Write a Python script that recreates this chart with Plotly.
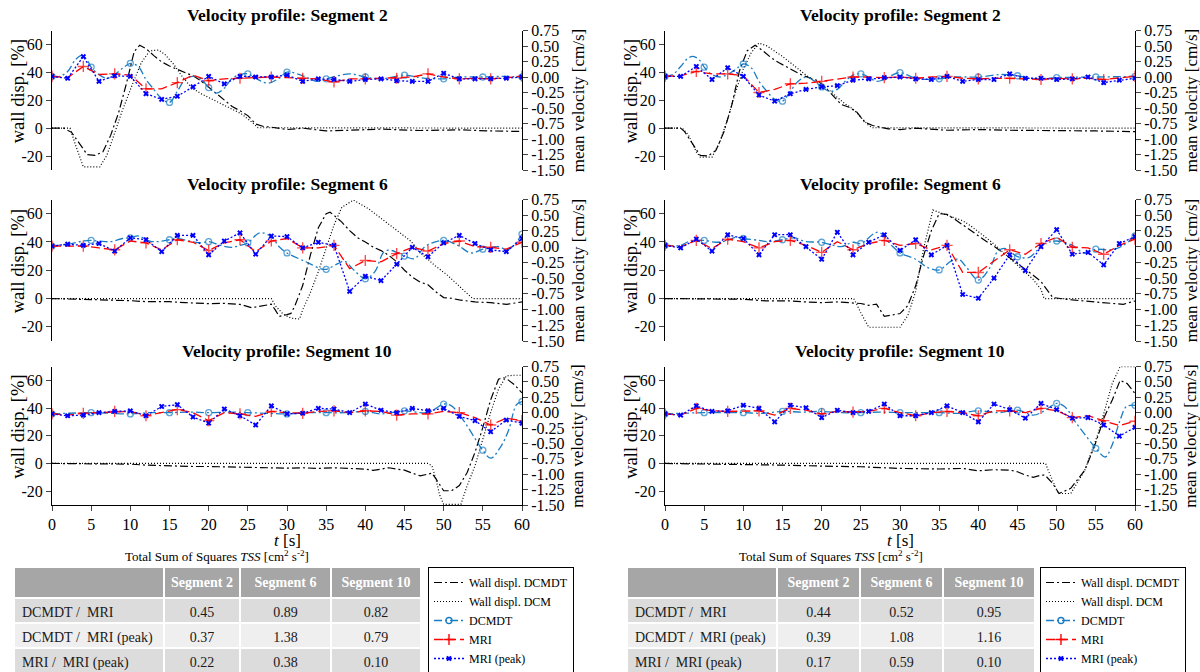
import plotly.graph_objects as go

FONT = "Liberation Serif, Times New Roman, serif"

# ------------------------------------------------------------------ data
TIME_TICKS = [0, 5, 10, 15, 20, 25, 30, 35, 40, 45, 50, 55, 60]
WALL_TICKS = [-20, 0, 20, 40, 60]
VEL_TICKS = [-1.5, -1.25, -1.0, -0.75, -0.5, -0.25, 0.0, 0.25, 0.5, 0.75]
T2 = list(range(0, 61, 2))  # MRI sampling instants [s]

# ---- left column ----
L2_wall_dcmdt_t = [0, 1.5, 2.5, 3.5, 4.5, 5.5, 6.5, 7.5, 8.5, 9.5, 10.5, 11.2, 12, 13, 14, 15, 16, 17, 18, 19, 20, 21, 22, 23, 24, 25, 26, 27, 28, 30, 32, 35, 38, 42, 47, 52, 56, 60]
L2_wall_dcmdt_v = [0, 0, -3, -11, -19, -19.5, -17, -5, 11, 32, 55, 59.5, 57, 52, 47.5, 44.5, 42, 40, 37.5, 34, 29.5, 24.5, 20, 15.5, 12.5, 9, 3, 1.2, 0.7, -1, 0, -2, -1.5, -0.7, -1.7, -1.2, -2, -2.4]
L2_wall_dcm_t = [0, 2.3, 3, 4, 6.1, 7, 7.6, 8.9, 10.2, 11.4, 12.5, 13.6, 14.4, 15.5, 16.5, 17.8, 19.1, 20.4, 21.7, 22.9, 24.2, 25.5, 26.3, 60]
L2_wall_dcm_v = [0, 0, -12, -27.8, -27.8, -19.5, -10, 11.4, 30.5, 47, 55.5, 56, 53, 46, 38, 29, 24.5, 21, 17.4, 13.8, 10.2, 4.3, 0.3, 0]
L2_vel_dcmdt_t = [0, 1, 2, 3, 3.8, 4.5, 5, 6, 7, 8, 9, 10, 11, 12, 13, 14, 15, 16, 17, 18, 19, 20, 21, 22, 23, 24, 25, 26, 27.5, 29, 30, 32, 33.9, 35, 38, 40, 42, 45, 47, 50, 52, 55, 57.5, 60]
L2_vel_dcmdt_v = [0.01, 0.01, 0.09, 0.28, 0.35, 0.27, 0.16, 0.04, -0.02, 0.04, 0.14, 0.22, 0.17, -0.04, -0.2, -0.35, -0.41, -0.23, -0.04, 0.01, -0.03, -0.17, -0.26, -0.18, -0.02, 0.04, 0.05, -0.02, -0.1, -0.02, 0.08, 0.02, -0.07, -0.03, 0.05, 0.0, -0.03, 0.03, -0.01, -0.03, 0.0, 0.0, 0.01, 0.0]
L2_mri_v = [0.01, -0.01, 0.17, 0.04, 0.05, 0.03, -0.19, -0.19, -0.09, 0.03, -0.06, -0.03, -0.02, -0.01, 0.0, -0.01, -0.02, -0.03, -0.08, -0.03, -0.03, -0.02, -0.02, 0.0, 0.05, 0.0, -0.03, -0.02, -0.03, -0.01, 0.01]
L2_peak_v = [0.01, -0.02, 0.33, -0.07, 0.02, 0.01, -0.27, -0.36, -0.31, -0.16, 0.01, -0.11, 0.01, 0.0, 0.0, 0.03, -0.07, -0.03, -0.04, -0.07, -0.04, -0.03, -0.06, -0.07, -0.07, 0.06, -0.03, -0.03, -0.03, -0.02, 0.0]

L6_wall_dcmdt_t = [0, 5, 8, 10, 12, 15, 17, 20, 22, 24, 25.5, 27, 28, 28.5, 29, 30, 30.5, 31, 32, 33, 34, 35, 35.5, 36, 37, 38, 39, 40, 41, 42, 43, 44, 45, 46, 47, 48, 49, 50, 51, 52, 54, 56, 58, 60]
L6_wall_dcmdt_v = [0, -0.5, -1, -1.5, -2.2, -2.2, -2.9, -3.6, -3.4, -4.1, -6.5, -5.3, -4, -8, -12.6, -11.4, -10.5, -5.3, 9.2, 31, 50, 60, 61, 58.8, 54, 48, 43, 40, 36.3, 33.9, 30.5, 26, 20, 15.2, 11.6, 9.8, 4.8, 0.7, 0.2, -1, -2.4, -2.9, -4.1, -2.4]
L6_wall_dcm_t = [0, 28, 28.5, 29.5, 30.5, 31.6, 32, 33, 34, 35, 36, 37, 38.5, 40.4, 42.4, 44.5, 45.8, 47.1, 48.8, 50.5, 52.2, 53.7, 60]
L6_wall_dcm_v = [0, 0, -5, -11, -13.8, -14.5, -8, 4.4, 19, 36, 52, 64.5, 69.6, 63.5, 55, 46.6, 40.6, 32, 23.7, 16.4, 8, 0, 0]
L6_vel_dcmdt_t = [0, 2.5, 4, 5, 6, 7.5, 9, 10, 11, 12.5, 13.5, 15, 16, 17.5, 19, 20, 21.5, 23, 24, 25, 26.5, 28, 29, 30, 32.4, 34.3, 35, 36.5, 37.3, 38.6, 40, 41.2, 42.4, 43.3, 45, 46.3, 47.6, 50, 51.8, 53.5, 55, 57, 58.2, 60]
L6_vel_dcmdt_v = [0.01, 0.05, 0.09, 0.1, 0.09, 0.08, 0.13, 0.14, 0.17, 0.09, 0.08, 0.11, 0.13, 0.09, 0.06, 0.08, 0.02, -0.01, 0.02, 0.06, 0.22, 0.16, 0.0, -0.1, -0.24, -0.35, -0.36, -0.27, -0.23, -0.38, -0.51, -0.4, -0.08, -0.06, -0.15, -0.19, 0.0, 0.1, 0.02, -0.1, -0.04, 0.0, -0.05, 0.2]
L6_mri_v = [0.01, 0.01, 0.01, -0.02, -0.05, 0.09, 0.06, -0.05, 0.11, 0.07, -0.06, 0.06, 0.11, -0.08, 0.09, 0.13, -0.02, -0.02, 0.02, -0.35, -0.22, -0.24, -0.11, -0.01, -0.07, 0.05, 0.09, 0.0, -0.01, -0.04, 0.07]
L6_peak_v = [0.01, 0.04, 0.02, 0.05, -0.07, 0.14, 0.11, -0.08, 0.18, 0.18, -0.13, 0.09, 0.22, -0.12, 0.17, 0.16, -0.02, 0.07, 0.02, -0.71, -0.47, -0.54, -0.28, -0.01, -0.16, 0.06, 0.18, 0.05, -0.05, -0.08, 0.13]

L10_wall_dcmdt_t = [0, 5, 10, 12, 14, 16, 18, 20, 22, 24, 26, 28, 30, 32, 34, 36, 38, 40, 41, 42, 43, 44, 45, 46, 47, 48, 48.5, 49, 50, 51, 52, 53, 54, 55, 56, 57, 57.5, 58, 59, 60]
L10_wall_dcmdt_v = [0, 0, -0.5, -1.2, -1.7, -1.7, -2.2, -2.2, -2.4, -2.9, -2.7, -3.1, -3.4, -3.1, -3.6, -3.1, -3.6, -4.1, -5, -4.1, -3.1, -4.1, -4.8, -7, -8.9, -7.7, -7, -11, -19.7, -19.7, -16, -6.5, 8, 26, 46, 60.8, 62, 61.3, 57, 51]
L10_wall_dcm_t = [0, 48, 48.5, 49, 49.5, 50, 52.2, 53, 54, 55, 56, 57, 58, 59, 60]
L10_wall_dcm_v = [0, 0, -1.7, -11, -23, -29.5, -29.5, -16, -1.7, 17.5, 36.8, 53.6, 63.2, 63.7, 63.7]
L10_vel_dcmdt_t = [0, 5, 7.5, 10, 12.5, 15, 17.5, 20, 22.5, 25, 27.5, 30, 32.5, 35, 37.5, 40, 42, 45, 47, 48, 49, 50, 51, 52.5, 54, 55, 56, 57.3, 58.3, 59.3, 60]
L10_vel_dcmdt_v = [-0.02, 0.0, -0.01, -0.02, 0.0, 0.0, 0.01, 0.0, 0.01, 0.0, -0.01, -0.02, 0.0, 0.0, 0.0, 0.02, -0.02, 0.03, 0.0, 0.0, 0.07, 0.14, 0.11, -0.12, -0.42, -0.61, -0.74, -0.55, -0.28, 0.13, 0.18]
L10_mri_v = [-0.02, -0.04, -0.01, 0.0, 0.02, 0.02, -0.05, 0.0, 0.05, 0.0, -0.13, 0.0, -0.02, -0.06, 0.02, 0.0, -0.01, 0.02, 0.03, 0.0, 0.03, 0.02, -0.04, -0.02, -0.02, 0.02, 0.0, -0.08, -0.2, -0.09, -0.13]
L10_peak_v = [-0.02, -0.05, -0.04, 0.0, 0.02, 0.03, -0.05, 0.1, 0.13, -0.07, -0.17, 0.06, -0.05, -0.2, 0.11, -0.02, -0.01, 0.07, 0.06, 0.0, 0.14, 0.04, 0.0, 0.07, 0.03, 0.07, -0.06, -0.13, -0.31, -0.12, -0.17]

# ---- right column ----
R2_wall_dcmdt_t = [0, 2, 2.5, 3.5, 4.5, 5.5, 6.5, 7.5, 8.5, 9.5, 10.5, 11.5, 12.5, 13.5, 14.5, 15.5, 16.5, 17.5, 18.5, 19.5, 20.5, 21.5, 22.5, 23.5, 24.5, 25.5, 26.5, 27.5, 28.5, 30, 32, 36, 40, 44, 50, 55, 60]
R2_wall_dcmdt_v = [0, 0, -2.5, -11, -19.5, -20, -16, -3, 16, 41, 55.5, 59.5, 55.5, 50.7, 47, 44, 41, 38, 36, 34, 29, 23, 17, 15, 11.4, 4.3, 1.9, 0.7, -0.5, -1, 0, -1.5, -1, -1.5, -1.5, -2, -2.5]
R2_wall_dcm_t = [0, 2.2, 3, 4, 4.5, 6, 7, 8, 9, 10, 11, 12, 13, 14, 15, 16, 17, 18, 19, 20, 21, 22, 23, 24, 25, 26, 26.5, 60]
R2_wall_dcm_v = [0, 0, -5, -17, -20.7, -20.7, -10, 6.7, 25.7, 42.4, 54, 61, 59, 55.5, 51.4, 47, 42.4, 38, 34, 30.5, 27, 22, 17.4, 13.8, 7.9, 1.9, 0.3, 0]
R2_vel_dcmdt_t = [0, 1, 2, 3, 3.7, 4.5, 5, 6, 7, 8, 9, 10, 11, 12, 13, 14, 15, 16, 17, 18, 19, 20, 21, 22, 23, 24, 25, 26, 27, 28, 29, 30, 32, 34, 35, 37, 40, 43, 45, 47, 50, 55, 60]
R2_vel_dcmdt_v = [0.01, 0.04, 0.17, 0.31, 0.33, 0.26, 0.16, 0.04, 0.0, 0.04, 0.12, 0.21, 0.15, -0.07, -0.23, -0.36, -0.39, -0.23, -0.07, 0.0, -0.06, -0.16, -0.23, -0.2, -0.07, 0.03, 0.05, 0.0, -0.07, -0.04, 0.03, 0.07, -0.02, -0.04, -0.03, 0.0, 0.0, 0.04, 0.02, -0.03, -0.01, 0.0, 0.01]
R2_mri_v = [0.01, 0.02, 0.09, 0.05, 0.05, 0.02, -0.25, -0.2, -0.11, -0.1, -0.07, -0.04, 0.0, 0.0, -0.01, 0.0, -0.02, 0.0, 0.01, -0.02, -0.03, -0.02, -0.02, -0.03, -0.04, -0.02, -0.03, -0.02, -0.04, -0.01, 0.01]
R2_peak_v = [0.01, 0.01, 0.17, -0.04, 0.15, 0.01, -0.29, -0.39, -0.27, -0.2, -0.16, -0.14, -0.05, -0.03, -0.01, 0.0, -0.03, -0.04, 0.01, -0.07, -0.04, -0.04, 0.05, -0.02, -0.02, -0.04, -0.03, 0.0, -0.09, -0.05, -0.02]

R6_wall_dcmdt_t = [0, 5, 10, 13, 16, 18, 20, 22, 24, 25, 26, 27, 28, 30, 31, 32, 33, 34, 35, 36, 37, 38, 39, 40, 41, 42, 43, 44, 45, 46, 47, 48, 49, 49.5, 52, 55, 58.5, 60]
R6_wall_dcmdt_v = [0, 0, -0.5, -1.7, -1.7, -2.4, -2.9, -2.4, -2.9, -3.5, -4.8, -4, -12.6, -10.6, -5, 9, 30, 48, 60, 59.5, 56, 52, 48, 44, 40.5, 37, 33, 29, 25, 21, 16.5, 12, 5, 0.7, -1, -2.4, -4.1, -1.7]
R6_wall_dcm_t = [0, 24.1, 25, 26, 30, 31, 32, 33, 34.2, 35, 36, 37, 38, 39, 40, 41, 42, 43, 44, 45, 46, 47, 48, 48.4, 60]
R6_wall_dcm_v = [0, 0, -10, -20.3, -20.3, -12, 5, 35, 62.5, 61, 59, 57, 55, 51.5, 47.5, 43, 38.5, 33.5, 29, 24, 19, 13.5, 6.5, 0, 0]
R6_vel_dcmdt_t = [0, 2, 3, 5, 6.5, 8, 9, 10, 12, 13, 15, 16.5, 18, 20, 21.5, 22.5, 24, 25, 27.2, 29, 30, 32, 33.5, 35, 36.5, 37.5, 38.5, 40, 41.5, 42.5, 43.5, 45, 46.5, 47.5, 48.5, 50, 52, 53.5, 55, 57, 58.5, 60]
R6_vel_dcmdt_v = [0.02, 0.02, 0.08, 0.1, 0.07, 0.1, 0.15, 0.13, 0.1, 0.08, 0.11, 0.14, 0.08, 0.07, 0.02, 0.0, 0.07, 0.05, 0.23, 0.01, -0.1, -0.2, -0.33, -0.37, -0.23, -0.2, -0.33, -0.53, -0.33, -0.07, -0.03, -0.16, -0.17, -0.06, 0.05, 0.09, 0.02, -0.1, -0.04, -0.05, 0.02, 0.17]
R6_mri_v = [0.02, 0.0, 0.1, -0.03, 0.12, 0.08, -0.02, 0.08, 0.1, 0.02, -0.09, 0.08, -0.05, 0.05, 0.1, 0.02, 0.05, -0.05, 0.02, -0.41, -0.41, -0.23, -0.05, -0.12, 0.05, 0.15, -0.01, -0.02, -0.12, 0.02, 0.12]
R6_peak_v = [0.02, -0.02, 0.12, -0.07, 0.19, 0.13, -0.13, 0.19, 0.19, 0.0, -0.2, 0.23, -0.13, 0.07, 0.19, -0.06, 0.11, -0.13, 0.02, -0.76, -0.82, -0.5, -0.13, -0.38, 0.0, 0.27, -0.12, -0.09, -0.29, 0.05, 0.16]

R10_wall_dcmdt_t = [0, 10, 15, 20, 25, 30, 35, 38, 40, 42, 44, 45, 46, 47, 48, 48.5, 49.5, 50.3, 51.8, 53.6, 54.8, 56.1, 57.1, 58.1, 59, 60]
R10_wall_dcmdt_v = [0, -0.5, -1.2, -1.9, -2.4, -3.6, -4, -3.6, -5.3, -4.5, -4.8, -6, -8.4, -10, -8.4, -8.4, -14.5, -21.7, -18, -4.8, 12, 33.7, 45.8, 60, 57.7, 50.5]
R10_wall_dcm_t = [0, 48.6, 48.9, 50.2, 51.8, 53.6, 55.3, 57.1, 58.1, 60]
R10_wall_dcm_v = [0, 0, -4.8, -21.7, -21.7, -4.8, 21.7, 57.8, 69.9, 69.9]
R10_vel_dcmdt_t = [0, 5, 7.5, 10, 12.5, 15, 17.5, 20, 22.5, 25, 27.5, 30, 32.5, 35, 37.5, 40, 42.5, 45, 47, 48, 49, 50, 51, 52.5, 54, 55, 56.2, 57, 58.1, 58.9, 60]
R10_vel_dcmdt_v = [-0.02, 0.0, 0.0, 0.0, -0.01, 0.02, 0.01, 0.02, 0.0, 0.0, 0.01, 0.0, 0.0, 0.0, -0.01, 0.03, 0.0, 0.04, -0.04, 0.0, 0.08, 0.15, 0.1, -0.17, -0.42, -0.58, -0.72, -0.55, -0.12, 0.1, 0.12]
R10_mri_v = [-0.02, -0.04, 0.07, 0.03, 0.02, 0.02, 0.03, -0.04, 0.07, 0.04, -0.02, 0.02, 0.01, 0.02, 0.07, 0.0, -0.05, 0.0, 0.02, 0.0, -0.05, 0.03, 0.03, 0.0, 0.07, 0.03, -0.08, -0.05, -0.13, -0.21, -0.14]
R10_peak_v = [-0.02, -0.04, 0.11, 0.02, 0.03, 0.12, 0.07, -0.15, 0.12, 0.08, -0.08, 0.04, 0.0, 0.02, 0.14, -0.05, -0.05, 0.0, 0.11, 0.0, -0.15, 0.14, 0.05, -0.09, 0.15, 0.05, -0.09, -0.08, -0.2, -0.38, -0.24]

# ---- TSS tables ----
TABLE_ROWS = ["DCMDT /  MRI", "DCMDT /  MRI (peak)", "MRI /  MRI (peak)"]
TABLE_HEAD = ["", "Segment 2", "Segment 6", "Segment 10"]
L_TSS_SEG2 = [0.45, 0.37, 0.22]
L_TSS_SEG6 = [0.89, 1.38, 0.38]
L_TSS_SEG10 = [0.82, 0.79, 0.10]
R_TSS_SEG2 = [0.44, 0.39, 0.17]
R_TSS_SEG6 = [0.52, 1.08, 0.59]
R_TSS_SEG10 = [0.95, 1.16, 0.10]

SERIES_NAMES = ["Wall displ. DCMDT", "Wall displ. DCM", "DCMDT", "MRI", "MRI (peak)"]

# ------------------------------------------------------------------ styles
W = 1200
H = 672
COL_X = [(52 / W, 522 / W), (665 / W, 1135 / W)]
ROW_Y = [(1 - 170 / H, 1 - 30.5 / H), (1 - 341 / H, 1 - 199.5 / H), (1 - 505 / H, 1 - 366.5 / H)]
C_DCMDT = "#1a7dc4"
C_MRI = "#ff0000"
C_PEAK = "#0000ff"
DASHDOT = "8px,3px,2px,3px"
NBSP = "\u00a0"

STY = {
    "wdt": dict(mode="lines", line=dict(color="black", width=1.2, dash=DASHDOT)),
    "wdm": dict(mode="lines", line=dict(color="black", width=1.2, dash="1px,2px")),
    "dcmdt": dict(mode="lines+markers", line=dict(color=C_DCMDT, width=1.3, dash=DASHDOT),
                  marker=dict(symbol="circle-open", size=6, color=C_DCMDT, line=dict(width=1.3, color=C_DCMDT))),
    "mri": dict(mode="lines+markers", line=dict(color=C_MRI, width=1.3, dash="9px,4px"),
                marker=dict(symbol="cross-thin-open", size=8, color=C_MRI, line=dict(width=1.4, color=C_MRI))),
    "peak": dict(mode="lines+markers", line=dict(color=C_PEAK, width=1.3, dash="2px,2px"),
                 marker=dict(symbol="x", size=5, color=C_PEAK, line=dict(width=0))),
}

panels = [
    (0, 0, "2", L2_wall_dcmdt_t, L2_wall_dcmdt_v, L2_wall_dcm_t, L2_wall_dcm_v, L2_vel_dcmdt_t, L2_vel_dcmdt_v, L2_mri_v, L2_peak_v),
    (0, 1, "6", L6_wall_dcmdt_t, L6_wall_dcmdt_v, L6_wall_dcm_t, L6_wall_dcm_v, L6_vel_dcmdt_t, L6_vel_dcmdt_v, L6_mri_v, L6_peak_v),
    (0, 2, "10", L10_wall_dcmdt_t, L10_wall_dcmdt_v, L10_wall_dcm_t, L10_wall_dcm_v, L10_vel_dcmdt_t, L10_vel_dcmdt_v, L10_mri_v, L10_peak_v),
    (1, 0, "2", R2_wall_dcmdt_t, R2_wall_dcmdt_v, R2_wall_dcm_t, R2_wall_dcm_v, R2_vel_dcmdt_t, R2_vel_dcmdt_v, R2_mri_v, R2_peak_v),
    (1, 1, "6", R6_wall_dcmdt_t, R6_wall_dcmdt_v, R6_wall_dcm_t, R6_wall_dcm_v, R6_vel_dcmdt_t, R6_vel_dcmdt_v, R6_mri_v, R6_peak_v),
    (1, 2, "10", R10_wall_dcmdt_t, R10_wall_dcmdt_v, R10_wall_dcm_t, R10_wall_dcm_v, R10_vel_dcmdt_t, R10_vel_dcmdt_v, R10_mri_v, R10_peak_v),
]

fig = go.Figure()
layout = dict(
    template="none",
    width=W, height=H, margin=dict(l=0, r=0, t=0, b=0, autoexpand=False),
    paper_bgcolor="white", plot_bgcolor="rgba(0,0,0,0)",
    font=dict(family=FONT, size=15, color="black"),
    annotations=[],
)


def axname(kind, i):
    return kind + ("axis" if i == 1 else "axis%d" % i)


def axref(kind, i):
    return kind if i == 1 else "%s%d" % (kind, i)


def note(text, x, y, size, angle=0, bold=False):
    return dict(text=("<b>%s</b>" % text) if bold else text, xref="paper", yref="paper",
                x=x, y=y, xanchor="center", yanchor="middle", showarrow=False, textangle=angle,
                font=dict(family=FONT, size=size, color="black"))


AX_FONT = dict(family=FONT, size=16, color="black")

for p, (col, row, seg, wdt_t, wdt_v, wdm_t, wdm_v, vd_t, vd_v, mri_v, peak_v) in enumerate(panels):
    xi, yl, yr = p + 1, 2 * p + 1, 2 * p + 2
    xr, ylr, yrr = axref("x", xi), axref("y", yl), axref("y", yr)

    xa = dict(domain=list(COL_X[col]), range=[0, 60], anchor=ylr, showgrid=False, zeroline=False,
              automargin=False)
    if row == 2:
        xa.update(showline=True, linecolor="black", linewidth=1, ticks="outside", ticklen=5,
                  tickvals=TIME_TICKS, ticktext=[str(v) for v in TIME_TICKS], tickfont=AX_FONT)
    else:
        xa.update(visible=False)
    layout[axname("x", xi)] = xa
    layout[axname("y", yl)] = dict(
        domain=list(ROW_Y[row]), range=[-30, 70], anchor=xr, showgrid=False, zeroline=False,
        automargin=False,
        showline=True, linecolor="black", linewidth=1, ticks="outside", ticklen=5,
        tickvals=WALL_TICKS, ticktext=[str(v) for v in WALL_TICKS], tickfont=AX_FONT)
    layout[axname("y", yr)] = dict(
        domain=list(ROW_Y[row]), range=[-1.5, 0.75], anchor=xr, overlaying=ylr, side="right",
        automargin=False,
        showgrid=False, zeroline=False, showline=True, linecolor="black", linewidth=1,
        ticks="outside", ticklen=5, tickvals=VEL_TICKS, ticktext=["%.2f" % v for v in VEL_TICKS],
        tickfont=AX_FONT)

    fig.add_trace(go.Scatter(x=wdt_t, y=wdt_v, xaxis=xr, yaxis=ylr, showlegend=False, **STY["wdt"]))
    fig.add_trace(go.Scatter(x=wdm_t, y=wdm_v, xaxis=xr, yaxis=ylr, showlegend=False, **STY["wdm"]))

    d = STY["dcmdt"]
    fig.add_trace(go.Scatter(x=vd_t, y=vd_v, xaxis=xr, yaxis=yrr, showlegend=False, mode=d["mode"],
                             line=dict(d["line"], shape="spline", smoothing=1.0),
                             marker=dict(d["marker"], size=[6 if float(t) % 5 == 0 else 0 for t in vd_t])))
    m = STY["mri"]
    fig.add_trace(go.Scatter(x=T2, y=mri_v, xaxis=xr, yaxis=yrr, showlegend=False, mode=m["mode"],
                             line=m["line"],
                             marker=dict(m["marker"], size=[8 if t % 4 == 0 else 0 for t in T2])))
    fig.add_trace(go.Scatter(x=T2, y=peak_v, xaxis=xr, yaxis=yrr, showlegend=False, **STY["peak"]))

    x0, x1 = COL_X[col]
    y0, y1 = ROW_Y[row]
    layout["annotations"].append(note("Velocity profile: Segment %s" % seg, (x0 + x1) / 2,
                                      y1 + 15.5 / H, 17.5, bold=True))
    layout["annotations"].append(note("wall disp. [%]", x0 - 34 / W, (y0 + y1) / 2 + 9 / H, 18.5, angle=-90))
    layout["annotations"].append(note("mean velocity [cm/s]", x1 + 56 / W, (y0 + y1) / 2, 17, angle=-90))
    if row == 2:
        layout["annotations"].append(note("<i>t</i> [s]", (x0 + x1) / 2, 1 - 540 / H, 17))

# legend-only entries (one legend per column)
for col, leg in ((0, "legend"), (1, "legend2")):
    p = col * 3
    xr, ylr = axref("x", p + 1), axref("y", 2 * p + 1)
    for key, name in zip(["wdt", "wdm", "dcmdt", "mri", "peak"], SERIES_NAMES):
        fig.add_trace(go.Scatter(x=[None], y=[None], xaxis=xr, yaxis=ylr, name=name,
                                 legend=leg, showlegend=True, **STY[key]))

legend_style = dict(xanchor="left", yanchor="top", y=1 - 567 / H, bgcolor="white",
                    bordercolor="black", borderwidth=1, font=dict(family=FONT, size=12, color="black"),
                    itemwidth=30, tracegroupgap=0, traceorder="normal")
layout["legend"] = dict(legend_style, x=428 / W)
layout["legend2"] = dict(legend_style, x=1040 / W)

# TSS tables
ROW_FILLS = ["#dcdcdc", "#efefef", "#dcdcdc"]
for xd, vals, cw, cx in (
    ((14 / W, 421 / W), (L_TSS_SEG2, L_TSS_SEG6, L_TSS_SEG10), [150, 76, 91, 90], 217 / W),
    ((627 / W, 1035 / W), (R_TSS_SEG2, R_TSS_SEG6, R_TSS_SEG10), [150, 83, 83, 92], 831 / W),
):
    fig.add_trace(go.Table(
        domain=dict(x=list(xd), y=[0, 1 - 567 / H]),
        columnwidth=cw,
        header=dict(values=["<b>%s</b>" % h.replace(" ", NBSP) if h else NBSP for h in TABLE_HEAD],
                    fill_color="#a6a6a6", font=dict(family=FONT, size=14, color="white"),
                    align="center", height=22, line=dict(color="white", width=2)),
        cells=dict(values=[[r.replace(" ", NBSP) for r in TABLE_ROWS]]
                   + [["%.2f" % v for v in col_vals] for col_vals in vals],
                   fill_color=[ROW_FILLS] * 4, font=dict(family=FONT, size=14, color="#1a1a1a"),
                   align=["left", "center", "center", "center"], height=25,
                   line=dict(color="white", width=2)),
    ))
    layout["annotations"].append(note("Total Sum of Squares <i>TSS</i> [cm<sup>2</sup> s<sup>-2</sup>]",
                                      cx, 1 - 556 / H, 13))

fig.update_layout(**layout)
fig.write_html("out.html")
